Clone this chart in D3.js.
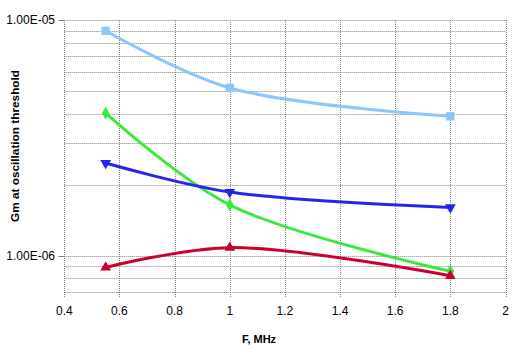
<!DOCTYPE html>
<html><head><meta charset="utf-8">
<script src="https://cdn.jsdelivr.net/npm/d3@7"></script>
<style>body{margin:0;background:#fff;}svg{display:block;font-family:Arial,"Liberation Sans",sans-serif;}</style>
</head><body>
<svg id="c" width="521" height="351"></svg>
<script>
const freqs = [0.55, 1.0, 1.8];
const lightBlue = [9.0e-6, 5.15e-6, 3.9e-6];
const green = [4.02e-6, 1.64e-6, 8.57e-7];
const blue = [2.47e-6, 1.86e-6, 1.6e-6];
const red = [8.9e-7, 1.08e-6, 8.2e-7];
const xTicks = [0.4, 0.6, 0.8, 1, 1.2, 1.4, 1.6, 1.8, 2];
const yTickLabels = [1e-6, 1e-5];
const yMinor = [7e-7, 8e-7, 9e-7, 2e-6, 3e-6, 4e-6, 5e-6, 6e-6, 7e-6, 8e-6, 9e-6];

const series = [
  {vals: lightBlue, color: "#8cc6ff", shape: "square"},
  {vals: green, color: "#3ce83c", shape: "diamond"},
  {vals: blue, color: "#2424ee", shape: "down"},
  {vals: red, color: "#cc0030", shape: "up"}
];

const L = 64.3, R = 505.5, T = 20, B = 298;
const svg = d3.select("#c");
const x = d3.scaleLinear().domain([0.4, 2]).range([L, R]);
const y = d3.scaleLog().domain([6.6e-7, 1e-5]).range([B, T]);

const g = svg.append("g");
g.selectAll("line.h").data(yMinor.concat(yTickLabels)).enter().append("line")
  .attr("x1", L).attr("x2", R).attr("y1", d => Math.round(y(d)) + 0.5).attr("y2", d => Math.round(y(d)) + 0.5)
  .attr("stroke", "#808080").attr("stroke-dasharray", "1,1");
g.selectAll("line.v").data(xTicks).enter().append("line")
  .attr("x1", d => Math.round(x(d)) + 0.5).attr("x2", d => Math.round(x(d)) + 0.5).attr("y1", T).attr("y2", B)
  .attr("stroke", "#808080").attr("stroke-dasharray", "1,1");
g.selectAll("line.yt").data(yTickLabels).enter().append("line")
  .attr("x1", L - 6).attr("x2", L).attr("y1", d => Math.round(y(d)) + 0.5).attr("y2", d => Math.round(y(d)) + 0.5)
  .attr("stroke", "#808080");

g.selectAll("text.yl").data(yTickLabels).enter().append("text")
  .attr("x", 55).attr("y", d => y(d)).attr("dy", "0.35em").attr("text-anchor", "end")
  .attr("font-size", 12).attr("fill", "#000")
  .text(d => d3.format(".2e")(d).replace("e-", "E-0").toUpperCase());
g.selectAll("text.xl").data(xTicks).enter().append("text")
  .attr("x", d => x(d)).attr("y", 311).attr("dy", "0.35em").attr("text-anchor", "middle")
  .attr("font-size", 12).attr("fill", "#000")
  .text(d => d3.format("")(d));

svg.append("text").attr("x", 259).attr("y", 339).attr("dy", "0.35em").attr("text-anchor", "middle")
  .attr("font-size", 11).attr("font-weight", "bold").text("F, MHz");
svg.append("text").attr("transform", "translate(15,146) rotate(-90)").attr("dy", "0.35em")
  .attr("text-anchor", "middle").attr("font-size", 11.8).attr("font-weight", "bold")
  .text("Gm at oscillation threshold");

const line = d3.line().x(d => x(d[0])).y(d => y(d[1])).curve(d3.curveCatmullRom.alpha(0.5));
const sym = {
  square: d3.symbol().type(d3.symbolSquare).size(70),
  diamond: d3.symbol().type(d3.symbolDiamond).size(50),
  up: d3.symbol().type(d3.symbolTriangle).size(50),
  down: d3.symbol().type(d3.symbolTriangle).size(50)
};
series.forEach(s => {
  const pts = freqs.map((f, i) => [f, s.vals[i]]);
  svg.append("path").attr("d", line(pts)).attr("fill", "none").attr("stroke", s.color).attr("stroke-width", 3);
  svg.selectAll(null).data(pts).enter().append("path")
    .attr("d", sym[s.shape]())
    .attr("transform", d => `translate(${x(d[0])},${y(d[1])})` + (s.shape === "down" ? " rotate(180)" : ""))
    .attr("fill", s.color);
});
</script>
</body></html>
